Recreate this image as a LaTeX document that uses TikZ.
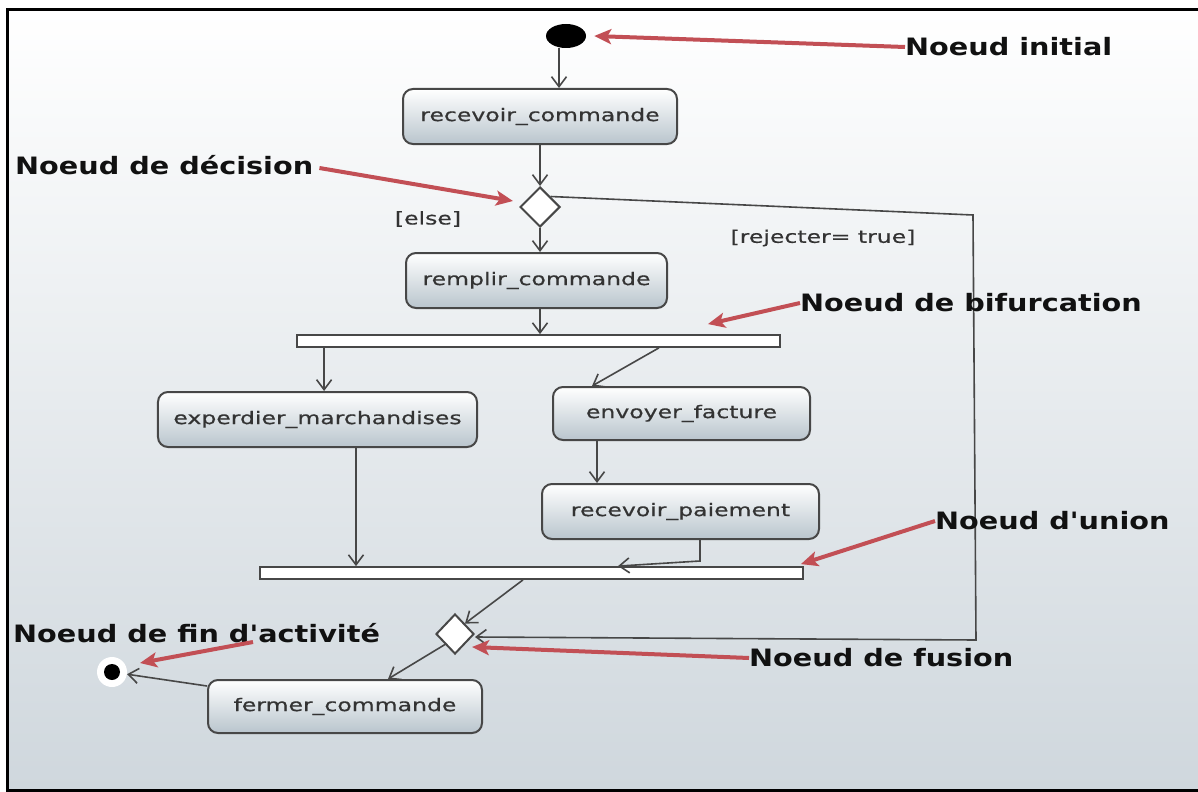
\documentclass[tikz,border=0pt]{standalone}
\usepackage{fontspec}
\usetikzlibrary{shapes.geometric,arrows.meta}
\newfontfamily\boxfont[FakeStretch=1.35,FakeBold=0.6,Ligatures=TeXOff]{DejaVu Sans}
\newfontfamily\notefont[FakeStretch=1.2,Ligatures=TeXOff]{DejaVu Sans}
\definecolor{edge}{HTML}{474747}
\definecolor{boxbot}{HTML}{B9C5CD}
\definecolor{boxtext}{HTML}{333333}
\definecolor{notetext}{HTML}{111111}
\definecolor{callout}{HTML}{C24F55}
\definecolor{bgbot}{HTML}{CFD7DD}
\begin{document}
\begin{tikzpicture}[x=1bp,y=-1bp,
  action/.style={rectangle, rounded corners=10bp, draw=edge, line width=2bp,
    top color=white, bottom color=boxbot, text=boxtext, inner sep=0pt,
    font=\boxfont\fontsize{17.5}{20}\selectfont},
  bar/.style={rectangle, draw=edge, line width=1.8bp, fill=white, inner sep=0pt,
    minimum height=12bp},
  choice/.style={diamond, draw=edge, line width=2bp, fill=white, inner sep=0pt},
  note/.style={anchor=west, inner sep=0pt, text=notetext,
    font=\notefont\bfseries\fontsize{24}{28}\selectfont},
  guard/.style={inner sep=0pt, text=boxtext, font=\boxfont\fontsize{17.5}{20}\selectfont},
  flow/.style={draw=edge, line width=1.6bp, -{Straight Barb[length=10bp,width=15bp]}},
  pointer/.style={draw=callout, line width=4bp, -{Stealth[length=17bp,width=15bp,inset=4bp]}}]

\useasboundingbox (0,0) rectangle (1198,792);

% backdrop and frame (open on the right)
\shade[top color=white, bottom color=bgbot] (7,10) rectangle (1202,790);
\draw[black, line width=3bp] (1202,10) -- (7,10) -- (7,790) -- (1202,790);

% activity nodes
\node[ellipse, fill=black, inner sep=0pt, minimum width=40bp, minimum height=24bp] (init) at (566,36) {};
\node[action, minimum width=274bp, minimum height=55bp] (recv) at (540,116.5) {recevoir\_commande};
\node[choice, minimum width=40bp, minimum height=40bp] (dec) at (540,207) {};
\node[action, minimum width=261bp, minimum height=55bp] (fill) at (536.5,280.5) {remplir\_commande};
\node[bar, minimum width=483bp] (fork) at (538.5,341) {};
\node[action, minimum width=319bp, minimum height=55bp] (ship) at (317.5,419.5) {experdier\_marchandises};
\node[action, minimum width=257bp, minimum height=53bp] (bill) at (681.5,413.5) {envoyer\_facture};
\node[action, minimum width=277bp, minimum height=55bp] (pay) at (680.5,511.5) {recevoir\_paiement};
\node[bar, minimum width=543bp] (join) at (531.5,573) {};
\node[choice, minimum width=38bp, minimum height=40bp] (merge) at (455,634) {};
\node[action, minimum width=274bp, minimum height=53bp] (close) at (345,706.5) {fermer\_commande};
\node[circle, fill=white, inner sep=0pt, minimum size=30bp] (final) at (112,672) {};
\fill[black] (final) circle (8bp);

% guards
\node[guard] (gelse) at (428,219) {[else]};
\node[guard] (greject) at (823,238) {[rejecter= true]};

% control flow
\draw[flow] ([xshift=-7bp]init.south) -- ([xshift=-7bp]init.south |- recv.north);
\draw[flow] (recv.south) -- (dec.north);
\draw[flow] (dec.south) -- (dec.south |- fill.north);
\draw[flow] (dec.south |- fill.south) -- (dec.south |- fork.north);
\draw[flow] ([xshift=28bp]fork.south west) -- ([xshift=28bp]fork.south west |- ship.north);
\draw[flow] ([xshift=-122bp]fork.south east) -- ([xshift=40bp]bill.north west);
\draw[flow] ([xshift=45bp]bill.south west) -- ([xshift=45bp]bill.south west |- pay.north);
\draw[flow] ([xshift=38.5bp]ship.south) -- ([xshift=38.5bp]ship.south |- join.north);
\draw[flow] ([xshift=19.5bp]pay.south) -- ++(0,21) -- ([xshift=86.5bp]join.north);
\draw[flow] ([xshift=-8.5bp]join.south) -- (merge.north east);
\coordinate (loopA) at (973,215);
\coordinate (loopB) at (976,640);
\draw[flow] (dec.north east) -- (loopA) -- (loopB) -- ([yshift=-3bp]merge.east);
\draw[flow] (merge.south west) -- ([xshift=43bp]close.north);
\draw[flow] ([yshift=-7bp]close.north west) -- (final);

% annotations
\node[note] (lInit) at (905,47) {Noeud initial};
\node[note] (lDec) at (15,165) {Noeud de décision};
\node[note] (lBif) at (800,303) {Noeud de bifurcation};
\node[note] (lUni) at (935,521) {Noeud d'union};
\node[note] (lFus) at (749,658) {Noeud de fusion};
\node[note] (lFin) at (13,633) {Noeud de fin d'activité};

\draw[pointer] (lInit.west) -- ([xshift=8bp]init.east);
\draw[pointer] ([xshift=6bp,yshift=-3bp]lDec.east) -- ([xshift=-6bp,yshift=6bp]dec.west);
\draw[pointer] (lBif.west) -- ([xshift=-73bp,yshift=10bp]fork.north east);
\draw[pointer] (lUni.west) -- ([xshift=-3bp,yshift=2bp]join.north east);
\draw[pointer] (lFus.west) -- ([shift={(17bp,-13bp)}]merge.center);
\draw[pointer] ([shift={(240bp,-9bp)}]lFin.west) -- ([shift={(28bp,9bp)}]final.center);
\end{tikzpicture}
\end{document}
